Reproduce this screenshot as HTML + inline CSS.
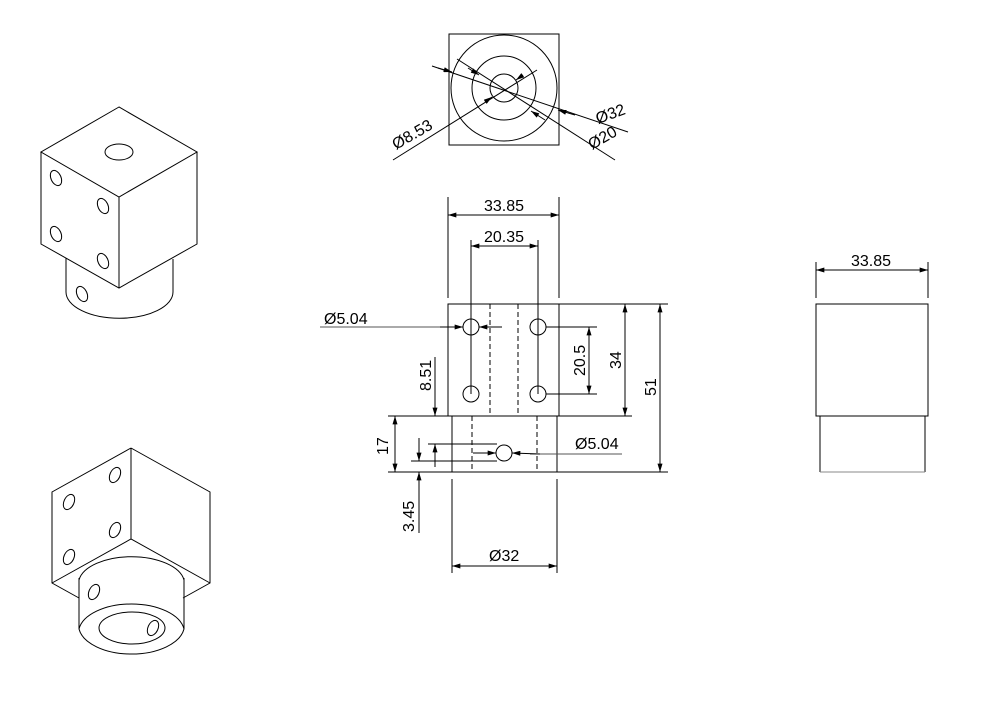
<!DOCTYPE html>
<html><head><style>html,body{margin:0;padding:0;background:#fff}svg{display:block}text{font-family:"Liberation Sans",sans-serif;font-size:16px;fill:#000}</style></head>
<body>
<svg width="987" height="708" viewBox="0 0 987 708" xmlns="http://www.w3.org/2000/svg">
<defs>
<marker id="a" viewBox="0 0 10 6" refX="10" refY="3" markerWidth="14" markerHeight="5" markerUnits="userSpaceOnUse" orient="auto-start-reverse"><path d="M0,0L10,3L0,6z" fill="#000"/></marker>
</defs>
<g fill="none" stroke="#000" stroke-width="1">
<rect x="449" y="34" width="110" height="111"/>
<circle cx="504" cy="88" r="53"/><circle cx="504" cy="88" r="32"/><circle cx="504" cy="88" r="14"/>
<line x1="432" y1="66" x2="628" y2="132"/>
<line x1="457" y1="59" x2="615" y2="160"/>
<line x1="393" y1="160" x2="537" y2="70"/>
<path d="M438,68 L452,72" marker-end="url(#a)"/>
<path d="M575,115 L558,110" marker-end="url(#a)"/>
<path d="M468,68 L479,75" marker-end="url(#a)"/>
<path d="M545,120 L531,111" marker-end="url(#a)"/>
<path d="M485,102 L492,97" marker-end="url(#a)"/>
<path d="M523,75 L516,80" marker-end="url(#a)"/>

<rect x="448" y="304" width="111" height="112"/>
<line x1="452" y1="416" x2="452" y2="472"/><line x1="557" y1="416" x2="557" y2="472"/>
<g stroke-dasharray="5,3"><line x1="490" y1="304" x2="490" y2="416"/><line x1="518" y1="304" x2="518" y2="416"/><line x1="472" y1="416" x2="472" y2="472"/><line x1="537" y1="416" x2="537" y2="472"/></g>
<circle cx="471" cy="327" r="8"/><circle cx="538" cy="327" r="8"/><circle cx="471" cy="394" r="8"/><circle cx="538" cy="394" r="8"/>
<circle cx="504" cy="453" r="8"/>
<line x1="559" y1="304" x2="668" y2="304"/>
<line x1="388" y1="416" x2="448" y2="416"/><line x1="559" y1="416" x2="632" y2="416"/>
<line x1="388" y1="472" x2="668" y2="472"/>
<line x1="448" y1="197" x2="448" y2="298"/><line x1="559" y1="197" x2="559" y2="298"/>
<path d="M470,215 L448,215" marker-end="url(#a)"/><path d="M470,215 L559,215" marker-end="url(#a)"/>
<line x1="471" y1="240" x2="471" y2="394"/><line x1="538" y1="240" x2="538" y2="394"/>
<path d="M500,246 L471,246" marker-end="url(#a)"/><path d="M500,246 L538,246" marker-end="url(#a)"/>
<line x1="320" y1="327" x2="450" y2="327" stroke="#555"/>
<path d="M440,327 L463,327" marker-end="url(#a)"/>
<path d="M502,327 L479,327" marker-end="url(#a)"/>
<line x1="546" y1="327" x2="597" y2="327"/><line x1="546" y1="394" x2="597" y2="394"/>
<path d="M589,360 L589,327" marker-end="url(#a)"/><path d="M589,360 L589,394" marker-end="url(#a)"/>
<path d="M625,360 L625,304" marker-end="url(#a)"/><path d="M625,360 L625,416" marker-end="url(#a)"/>
<path d="M660,390 L660,304" marker-end="url(#a)"/><path d="M660,390 L660,472" marker-end="url(#a)"/>
<path d="M395,444 L395,416" marker-end="url(#a)"/><path d="M395,444 L395,472" marker-end="url(#a)"/>
<line x1="428" y1="444" x2="497" y2="444"/><line x1="411" y1="461" x2="497" y2="461"/>
<path d="M435,357 L435,416" marker-end="url(#a)"/>
<path d="M435,467 L435,444" marker-end="url(#a)"/>
<path d="M419,438 L419,461" marker-end="url(#a)"/>
<path d="M419,533 L419,472" marker-end="url(#a)"/>
<line x1="530" y1="454" x2="622" y2="454" stroke="#555"/>
<path d="M540,454 L512,453" marker-end="url(#a)"/>
<path d="M473,453 L496,453" marker-end="url(#a)"/>
<line x1="452" y1="479" x2="452" y2="573"/><line x1="557" y1="479" x2="557" y2="573"/>
<path d="M500,566 L452,566" marker-end="url(#a)"/><path d="M500,566 L557,566" marker-end="url(#a)"/>

<rect x="816" y="304" width="112" height="112"/>
<line x1="820" y1="416" x2="820" y2="472"/><line x1="925" y1="416" x2="925" y2="472"/>
<line x1="820" y1="472" x2="925" y2="472" stroke="#888"/>
<line x1="816" y1="262" x2="816" y2="298"/><line x1="928" y1="262" x2="928" y2="298"/>
<path d="M870,270 L816,270" marker-end="url(#a)"/><path d="M870,270 L928,270" marker-end="url(#a)"/>

<path d="M119,107 L41,152 L119,197 L197,152 Z"/>
<path d="M41,152 L41,244 L119,288 L197,244 L197,152 M119,197 L119,288"/>
<path d="M66,258 L66,292 A53,26 0 0 0 173,292 L173,259"/>
<ellipse cx="119" cy="152" rx="14" ry="8"/>
<ellipse cx="56" cy="178" rx="5" ry="8" transform="rotate(-25 56 178)"/>
<ellipse cx="103" cy="206" rx="5" ry="8" transform="rotate(-25 103 206)"/>
<ellipse cx="56" cy="234" rx="5" ry="8" transform="rotate(-25 56 234)"/>
<ellipse cx="103" cy="261" rx="5" ry="8" transform="rotate(-25 103 261)"/>
<ellipse cx="82" cy="294" rx="5" ry="8" transform="rotate(-25 82 294)"/>

<path d="M131,448 L52,492 L52,583 L79,598 M131,448 L210,492 L210,583 L183,598 M131,448 L131,539 M52,583 L131,539 L210,583"/>
<path d="M79,580 A53,27 0 0 1 184,580"/>
<path d="M79,578 L79,629 A53,29 0 0 0 184,629 L184,578"/>
<path d="M79,629 A53,29 0 0 1 184,629"/>
<ellipse cx="132" cy="628" rx="33" ry="16"/>
<ellipse cx="69" cy="502" rx="5" ry="8" transform="rotate(25 69 502)"/>
<ellipse cx="115" cy="475" rx="5" ry="8" transform="rotate(25 115 475)"/>
<ellipse cx="69" cy="557" rx="5" ry="8" transform="rotate(25 69 557)"/>
<ellipse cx="115" cy="530" rx="5" ry="8" transform="rotate(25 115 530)"/>
<ellipse cx="94" cy="592" rx="5" ry="8" transform="rotate(25 94 592)"/>
<ellipse cx="153" cy="628" rx="5" ry="8" transform="rotate(25 153 628)"/>
</g>
<g>
<text transform="translate(598,124) rotate(-20)">Ø32</text>
<text transform="translate(592,150) rotate(-30)">Ø20</text>
<text transform="translate(396,150) rotate(-30)">Ø8.53</text>
<text x="484" y="211">33.85</text>
<text x="484" y="242">20.35</text>
<text x="324" y="324">Ø5.04</text>
<text x="575" y="449">Ø5.04</text>
<text x="489" y="561">Ø32</text>
<text x="851" y="266">33.85</text>
<text transform="translate(585,376) rotate(-90)">20.5</text>
<text transform="translate(621,369) rotate(-90)">34</text>
<text transform="translate(656,396) rotate(-90)">51</text>
<text transform="translate(431,391) rotate(-90)">8.51</text>
<text transform="translate(388,455) rotate(-90)">17</text>
<text transform="translate(414,532) rotate(-90)">3.45</text>
</g>
</svg>
</body></html>
